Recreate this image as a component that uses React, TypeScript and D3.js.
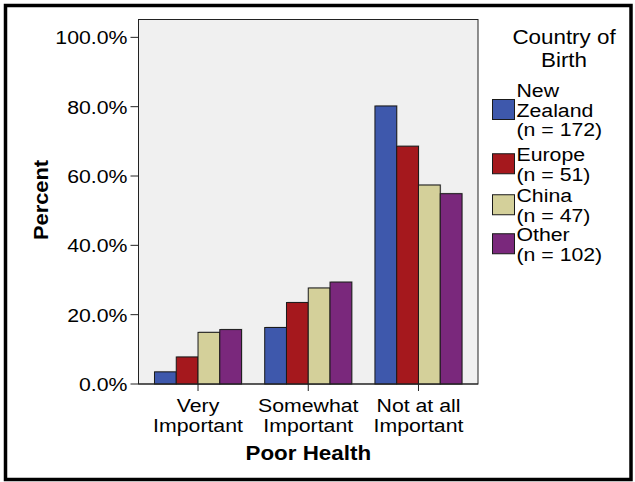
import * as d3 from "d3";

const categories = ["Very Important", "Somewhat Important", "Not at all Important"];
const categoryLines = [["Very", "Important"], ["Somewhat", "Important"], ["Not at all", "Important"]];
const countries = ["New Zealand", "Europe", "China", "Other"];
const legendLines = [["New", "Zealand", "(n = 172)"], ["Europe", "(n = 51)"], ["China", "(n = 47)"], ["Other", "(n = 102)"]];
const colors = ["#3e58ac", "#a5181d", "#d4d09a", "#7a287c"];
// percent per country, one array per category
const nzValues = [3.5, 16.3, 80.2];
const europeValues = [7.8, 23.5, 68.6];
const chinaValues = [14.9, 27.7, 57.4];
const otherValues = [15.7, 29.4, 54.9];
const yTicks = [0, 20, 40, 60, 80, 100];

const W = 635;
const H = 482;
const plot = { left: 138.5, top: 19.5, right: 478, bottom: 384 };
const SX = 1.12; // SPSS text looks a bit wide
const font = "'Liberation Sans', Arial, sans-serif";

function T({ x, y, size, bold, anchor, children, rotate }: any) {
  const tr = rotate ? `translate(${x},${y}) rotate(${rotate}) scale(${SX},1)` : `translate(${x},${y}) scale(${SX},1)`;
  return (
    <text transform={tr} fontSize={size} fontWeight={bold ? "bold" : "normal"} textAnchor={anchor || "start"} fontFamily={font} fill="#000">
      {children}
    </text>
  );
}

export default function App() {
  const series = [nzValues, europeValues, chinaValues, otherValues];

  const x0 = d3.scaleBand().domain(categories).range([plot.left, plot.right]).paddingInner(0.21).paddingOuter(0.145);
  const x1 = d3.scaleBand().domain(countries).range([0, x0.bandwidth()]);
  const y = d3.scaleLinear().domain([0, 105.15]).range([plot.bottom, plot.top]);

  const legendX = 492.5;
  const lineH = 19.5;
  const gaps = [5.5, 2, 0, 0];
  let cursor = 90;
  const legendItems = legendLines.map((lines, i) => {
    const first = cursor;
    cursor += lines.length * lineH + gaps[i];
    const mid = first + ((lines.length - 1) * lineH) / 2;
    return { lines, first, mid, color: colors[i] };
  });

  return (
    <svg width={W} height={H} style={{ position: "absolute", left: 0, top: 0 }}>
      <rect x={0} y={0} width={W} height={H} fill="#fff" />
      <rect x={5.5} y={5.5} width={625.5} height={474} fill="none" stroke="#000" strokeWidth={3.5} />

      {/* plot area */}
      <rect x={plot.left} y={plot.top} width={plot.right - plot.left} height={plot.bottom - plot.top} fill="#f0f0f0" stroke="#222" strokeWidth={1} />

      {/* bars */}
      {categories.map((c, ci) => (
        <g key={c} transform={`translate(${x0(c)},0)`}>
          {countries.map((k, si) => {
            const v = series[si][ci];
            const bx = x1(k)!;
            return (
              <g key={k}>
                <rect x={bx + 1} y={y(v) - 1} width={x1.bandwidth()} height={plot.bottom - y(v)} fill="#b8b8b8" opacity={0.6} />
                <rect x={bx} y={y(v)} width={x1.bandwidth()} height={plot.bottom - y(v)} fill={colors[si]} stroke="#1a1a1a" strokeWidth={1} />
              </g>
            );
          })}
        </g>
      ))}

      {/* y axis */}
      <line x1={plot.left} x2={plot.left} y1={plot.top} y2={plot.bottom} stroke="#222" />
      {yTicks.map((t) => (
        <g key={t}>
          <line x1={plot.left - 8} x2={plot.left} y1={y(t)} y2={y(t)} stroke="#222" />
          <T x={127.5} y={y(t) + 7} size={19} anchor="end">{t.toFixed(1) + "%"}</T>
        </g>
      ))}
      <T x={48} y={200} size={19.5} bold anchor="middle" rotate={-90}>Percent</T>

      {/* x axis */}
      <line x1={plot.left} x2={plot.right} y1={plot.bottom} y2={plot.bottom} stroke="#222" />
      {categories.map((c, i) => {
        const cx = x0(c)! + x0.bandwidth() / 2;
        return (
          <g key={c}>
            <line x1={cx} x2={cx} y1={plot.bottom} y2={plot.bottom + 7} stroke="#222" />
            {categoryLines[i].map((l, j) => (
              <T key={j} x={cx} y={412 + j * 20} size={19} anchor="middle">{l}</T>
            ))}
          </g>
        );
      })}
      <T x={(plot.left + plot.right) / 2} y={460} size={20} bold anchor="middle">Poor Health</T>

      {/* legend */}
      <T x={564} y={44} size={20} anchor="middle">Country of</T>
      <T x={564} y={67} size={20} anchor="middle">Birth</T>
      {legendItems.map((it, i) => (
        <g key={i}>
          <rect x={legendX} y={it.mid - 10} width={22} height={20} fill={it.color} stroke="#1a1a1a" strokeWidth={1} />
          {it.lines.map((l, j) => (
            <T key={j} x={516.5} y={it.first + j * lineH + 7} size={19}>{l}</T>
          ))}
        </g>
      ))}
    </svg>
  );
}
